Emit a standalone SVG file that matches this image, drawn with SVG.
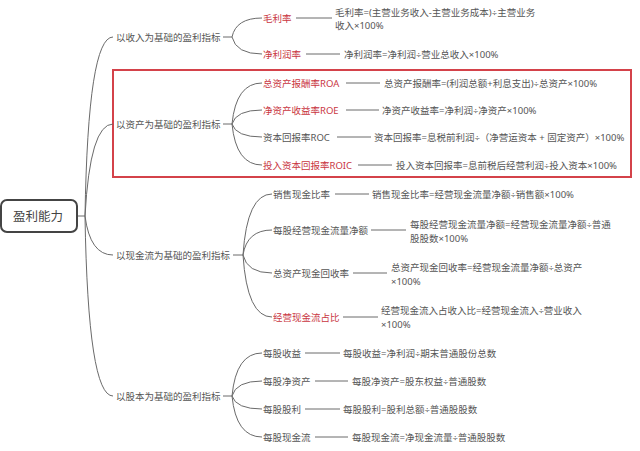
<svg xmlns="http://www.w3.org/2000/svg" width="640" height="451" viewBox="0 0 640 451">
<style>
text{font-family:"Noto Sans","Noto Sans CJK SC",sans-serif;font-size:9.5px;fill:#555;dominant-baseline:central}
.r{fill:#c9363f}
.root{font-size:12.5px;fill:#444;text-anchor:middle}
.c path,.c line{fill:none;stroke:#6a6a6a;stroke-width:1}
</style>
<rect width="640" height="451" fill="#fff"/>
<rect x="113" y="70" width="518" height="107" fill="none" stroke="#d4424a" stroke-width="2"/>
<g class="c" id="connectors">
<line x1="77" y1="216" x2="85" y2="216"/>
<path d="M85,216 Q88,37 113,37"/>
<path d="M85,216 Q90,124 113,124"/>
<path d="M85,216 Q90,255 113,255"/>
<path d="M85,216 Q88,396 113,396"/>
<line x1="223" y1="37" x2="232" y2="37"/>
<path d="M232,37 Q236,18 262,18"/>
<path d="M232,37 Q236,54 262,54"/>
<line x1="223" y1="124" x2="232" y2="124"/>
<path d="M232,124 Q236,83 262,83"/>
<path d="M232,124 Q236,110 262,110"/>
<path d="M232,124 Q236,137 262,137"/>
<path d="M232,124 Q236,165 262,165"/>
<line x1="233" y1="255" x2="243" y2="255"/>
<path d="M243,255 Q247,194 272,194"/>
<path d="M243,255 Q247,230 272,230"/>
<path d="M243,255 Q247,273 272,273"/>
<path d="M243,255 Q247,317 272,317"/>
<line x1="223" y1="396" x2="232" y2="396"/>
<path d="M232,396 Q236,353 262,353"/>
<path d="M232,396 Q236,381 262,381"/>
<path d="M232,396 Q236,409 262,409"/>
<path d="M232,396 Q236,437 262,437"/>
<line x1="296" y1="18" x2="332" y2="18"/>
<line x1="306" y1="54" x2="340" y2="54"/>
<line x1="346" y1="83" x2="380" y2="83"/>
<line x1="346" y1="110" x2="379" y2="110"/>
<line x1="337" y1="137" x2="371" y2="137"/>
<line x1="358" y1="165" x2="392" y2="165"/>
<line x1="335" y1="194" x2="369" y2="194"/>
<line x1="371" y1="230" x2="406" y2="230"/>
<line x1="353" y1="273" x2="387" y2="273"/>
<line x1="343" y1="317" x2="378" y2="317"/>
<line x1="305" y1="353" x2="340" y2="353"/>
<line x1="315" y1="381" x2="348" y2="381"/>
<line x1="305" y1="409" x2="340" y2="409"/>
<line x1="315" y1="437" x2="348" y2="437"/>
</g>
<g id="root"><rect x="1" y="200" width="76" height="32" rx="6" fill="#fff" stroke="#444" stroke-width="2"/><text class="root" x="38" y="216">盈利能力</text></g>
<g id="g1"><text x="116" y="37">以收入为基础的盈利指标</text></g>
<g id="g2"><text x="116" y="124">以资产为基础的盈利指标</text></g>
<g id="g3"><text x="116" y="255">以现金流为基础的盈利指标</text></g>
<g id="g4"><text x="116" y="396">以股本为基础的盈利指标</text></g>
<g id="n1"><text class="r" x="263" y="18">毛利率</text></g>
<g id="f1"><text x="335" y="12">毛利率=(主营业务收入-主营业务成本)÷主营业务</text><text x="335" y="25">收入×100%</text></g>
<g id="n2"><text class="r" x="263" y="54">净利润率</text></g>
<g id="f2"><text x="344" y="54">净利润率=净利润÷营业总收入×100%</text></g>
<g id="n3"><text class="r" x="263" y="83">总资产报酬率ROA</text></g>
<g id="f3"><text x="384" y="83">总资产报酬率=(利润总额+利息支出)÷总资产×100%</text></g>
<g id="n4"><text class="r" x="263" y="110">净资产收益率ROE</text></g>
<g id="f4"><text x="382" y="110">净资产收益率=净利润÷净资产×100%</text></g>
<g id="n5"><text x="263" y="137">资本回报率ROC</text></g>
<g id="f5"><text x="374" y="137">资本回报率=息税前利润÷（净营运资本 + 固定资产）×100%</text></g>
<g id="n6"><text class="r" x="263" y="165">投入资本回报率ROIC</text></g>
<g id="f6"><text x="396" y="165">投入资本回报率=息前税后经营利润÷投入资本×100%</text></g>
<g id="n7"><text x="273" y="194">销售现金比率</text></g>
<g id="f7"><text x="372" y="194">销售现金比率=经营现金流量净额÷销售额×100%</text></g>
<g id="n8"><text x="273" y="230">每股经营现金流量净额</text></g>
<g id="f8"><text x="410" y="224">每股经营现金流量净额=经营现金流量净额÷普通</text><text x="410" y="238">股股数×100%</text></g>
<g id="n9"><text x="273" y="273">总资产现金回收率</text></g>
<g id="f9"><text x="391" y="267">总资产现金回收率=经营现金流量净额÷总资产</text><text x="391" y="281">×100%</text></g>
<g id="n10"><text class="r" x="273" y="317">经营现金流占比</text></g>
<g id="f10"><text x="381" y="310">经营现金流入占收入比=经营现金流入÷营业收入</text><text x="381" y="324">×100%</text></g>
<g id="n11"><text x="263" y="353">每股收益</text></g>
<g id="f11"><text x="343" y="353">每股收益=净利润÷期末普通股份总数</text></g>
<g id="n12"><text x="263" y="381">每股净资产</text></g>
<g id="f12"><text x="352" y="381">每股净资产=股东权益÷普通股数</text></g>
<g id="n13"><text x="263" y="409">每股股利</text></g>
<g id="f13"><text x="343" y="409">每股股利=股利总额÷普通股股数</text></g>
<g id="n14"><text x="263" y="437">每股现金流</text></g>
<g id="f14"><text x="352" y="437">每股现金流=净现金流量÷普通股股数</text></g>
</svg>
